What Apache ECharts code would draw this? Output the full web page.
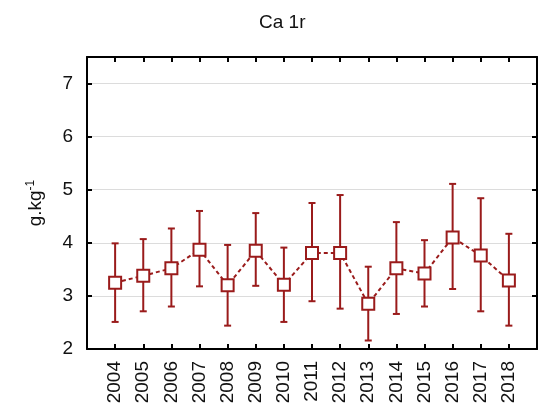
<!DOCTYPE html>
<html>
<head>
<meta charset="utf-8">
<script src="https://cdn.jsdelivr.net/npm/echarts@6/dist/echarts.min.js"></script>
<style>html,body{margin:0;padding:0;background:#fff}#c{width:550px;height:412px}</style>
</head>
<body>
<div id="c"></div>
<script>
var years = [2004,2005,2006,2007,2008,2009,2010,2011,2012,2013,2014,2015,2016,2017,2018];
var means = [3.25,3.38,3.52,3.87,3.20,3.85,3.21,3.81,3.81,2.85,3.52,3.42,4.10,3.76,3.29];
var upper = [3.99,4.07,4.27,4.60,3.96,4.56,3.91,4.75,4.90,3.55,4.39,4.05,5.11,4.84,4.17];
var lower = [2.51,2.71,2.80,3.18,2.44,3.19,2.51,2.90,2.76,2.16,2.66,2.80,3.13,2.71,2.44];
var yTicks = [2,3,4,5,6,7];

var COLOR = '#9a1b1b';
var FONT = 'Liberation Sans, Arial, sans-serif';

var lineData = years.map(function(y,i){return [y, means[i]];});
var errData = years.map(function(y,i){return [y, lower[i], upper[i]];});

var chart = echarts.init(document.getElementById('c'), null, {renderer:'canvas'});
chart.setOption({
  animation:false,
  backgroundColor:'#fff',
  title:{text:'Ca 1r', left:254, top:8, textStyle:{fontFamily:FONT, fontSize:19, fontWeight:'normal', color:'#111'}},
  grid:{left:87, right:13, top:57, bottom:63, containLabel:false},
  xAxis:[{
    type:'value', min:2003, max:2019, interval:1, position:'bottom',
    axisLine:{show:true, lineStyle:{color:'#000', width:2}},
    axisTick:{show:true, inside:true, length:5, lineStyle:{color:'#000', width:2}},
    axisLabel:{show:true, rotate:90, margin:12, fontFamily:FONT, fontSize:19, color:'#111',
      formatter:function(v){return (v>=2004 && v<=2018) ? String(v) : '';}},
    splitLine:{show:false}
  },{
    type:'value', min:2003, max:2019, interval:1, position:'top',
    axisLine:{show:true, lineStyle:{color:'#000', width:2}},
    axisTick:{show:true, inside:true, length:5, lineStyle:{color:'#000', width:2}},
    axisLabel:{show:false}, splitLine:{show:false}
  }],
  yAxis:[{
    type:'value', min:2, max:7.5, interval:1, position:'left',
    name:'{a|g.kg}{b|-1}', nameLocation:'middle', nameGap:40, nameRotate:90,
    nameTextStyle:{rich:{a:{fontFamily:FONT, fontSize:19, color:'#111'}, b:{fontFamily:FONT, fontSize:12, color:'#111', verticalAlign:'top', padding:[0,0,10,0]}}},
    axisLine:{show:true, lineStyle:{color:'#000', width:2}},
    axisTick:{show:true, inside:true, length:5, lineStyle:{color:'#000', width:2}},
    axisLabel:{margin:14, fontFamily:FONT, fontSize:19, color:'#111',
      formatter:function(v){return yTicks.indexOf(v)>=0 ? String(v) : '';}},
    splitLine:{show:true, lineStyle:{color:'#dcdcdc', width:1}}
  },{
    type:'value', min:2, max:7.5, interval:1, position:'right',
    axisLine:{show:true, lineStyle:{color:'#000', width:2}},
    axisTick:{show:true, inside:true, length:5, lineStyle:{color:'#000', width:2}},
    axisLabel:{show:false}, splitLine:{show:false}
  }],
  series:[{
    type:'custom',
    xAxisIndex:0, yAxisIndex:0,
    data:errData,
    z:2,
    renderItem:function(params, api){
      var x = api.value(0);
      var lo = api.coord([x, api.value(1)]);
      var hi = api.coord([x, api.value(2)]);
      var cap = 3.5;
      var st = {stroke:COLOR, lineWidth:2, fill:null};
      return {type:'group', children:[
        {type:'line', shape:{x1:lo[0], y1:lo[1], x2:hi[0], y2:hi[1]}, style:st},
        {type:'line', shape:{x1:lo[0]-cap, y1:lo[1], x2:lo[0]+cap, y2:lo[1]}, style:st},
        {type:'line', shape:{x1:hi[0]-cap, y1:hi[1], x2:hi[0]+cap, y2:hi[1]}, style:st}
      ]};
    }
  },{
    type:'line',
    xAxisIndex:0, yAxisIndex:0,
    data:lineData,
    z:3,
    symbol:'rect', symbolSize:12,
    showAllSymbol:true,
    lineStyle:{color:COLOR, width:2, type:[4,3]},
    itemStyle:{color:'#fff', borderColor:COLOR, borderWidth:2}
  }]
});
</script>
</body>
</html>
